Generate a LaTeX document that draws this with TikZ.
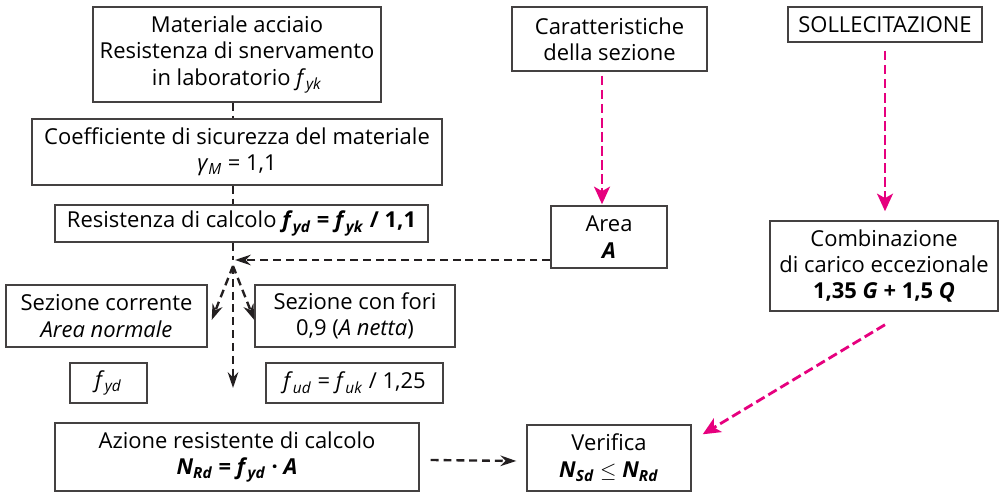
\documentclass[tikz,border=0pt]{standalone}
\usepackage{fontspec}
\setmainfont{Open Sans}
\usetikzlibrary{arrows.meta, positioning}
\definecolor{colorP}{HTML}{E6007E}
\definecolor{colorK}{HTML}{231F20}
\newcommand{\vsub}[2]{\textit{#1}\textsubscript{\textit{#2}}}

\begin{document}
\begin{tikzpicture}[
  x=0.02cm, y=-0.02cm,
  every node/.style={font=\fontsize{12.5}{15}\selectfont},
  box/.style={draw=colorK!85, line width=0.8pt, inner sep=0pt, align=center},
  bx/.style 2 args={minimum width=#1*0.02cm, minimum height=#2*0.02cm},
  dline/.style={dash pattern=on 4.5pt off 2.8pt, line width=1.35pt, colorK},
  darr/.style={dline, -{Stealth[length=9pt, width=6pt]}},
  parr/.style={-{Stealth[length=10pt, width=9pt, inset=2.5pt]},
               dash pattern=on 5.5pt off 2.5pt, line width=1.6pt, colorP}
]
\useasboundingbox (0,0) rectangle (999,492);

% left column
\node[box, bx={288}{95}]  (mat)  at (237,54.5)  {Materiale acciaio\\Resistenza di snervamento\\in laboratorio \vsub{f}{yk}};
\node[box, bx={410}{66}]  (coef) at (237,152)   {Coefficiente di sicurezza del materiale\\\textit{γ}\textsubscript{\textit{M}} = 1,1};
\node[box, bx={373}{37}]  (res)  at (241.5,223.5) {Resistenza di calcolo \textbf{\vsub{f}{yd} = \vsub{f}{yk} / 1,1}};
\node[box, bx={201}{62}]  (scor) at (106.5,316) {Sezione corrente\\\textit{Area normale}};
\node[box, bx={200}{62}]  (sfor) at (355,316)   {Sezione con fori\\0,9 (\textit{A netta})};
\node[box, bx={77}{40}]   (fyd)  at (108.5,383) {\vsub{f}{yd}};
\node[box, bx={177}{40}]  (fud)  at (354.5,383) {\vsub{f}{ud} = \vsub{f}{uk} / 1,25};
\node[box, bx={364}{68}]  (az)   at (237,457)   {Azione resistente di calcolo\\\textbf{\vsub{N}{Rd} = \vsub{f}{yd} · \textit{A}}};

% right columns
\node[box, bx={195}{64}]  (car)  at (609.5,39)  {Caratteristiche\\della sezione};
\node[box, bx={116}{62}]  (area) at (609,237)   {Area\\\textbf{\textit{A}}};
\node[box, bx={194}{35}]  (sol)  at (885,24.5)  {SOLLECITAZIONE};
\node[box, bx={228}{90}]  (comb) at (884,266)   {Combinazione\\di carico eccezionale\\\textbf{1,35 \textit{G} + 1,5 \textit{Q}}};
\node[box, bx={164}{66}]  (ver)  at (609,458)   {Verifica\\\textbf{\vsub{N}{Sd}} $\leq$ \textbf{\vsub{N}{Rd}}};

\coordinate (jn) at (233,260);
\coordinate (dn) at (233,388);

% black connectors
\draw[dline] (mat.south -| jn) -- (coef.north -| jn);
\draw[dline] (coef.south -| jn) -- (res.north -| jn);
\draw[dline] (res.south -| jn) -- (jn);
\draw[darr] (area.west |- jn) -- ([xshift=0.04cm]jn);
\draw[darr] ([yshift=-0.12cm]jn) -- ([shift={(4,4)}]scor.east);
\draw[darr] ([yshift=-0.12cm]jn) -- ([shift={(0,4)}]sfor.west);
\draw[darr] ([yshift=-0.12cm]jn) -- (dn);
\draw[darr] ([shift={(11,3)}]az.east) -- ([shift={(-10,3)}]ver.west);

% pink connectors
\draw[parr] ([shift={(-7.5,4)}]car.south) -- ([shift={(-7,-1)}]area.north);
\draw[parr] ([shift={(0,8)}]sol.south) -- ([shift={(1,-9)}]comb.north);
\draw[parr] ([shift={(1,13)}]comb.south) -- ([shift={(11,10)}]ver.north east);

\end{tikzpicture}
\end{document}
